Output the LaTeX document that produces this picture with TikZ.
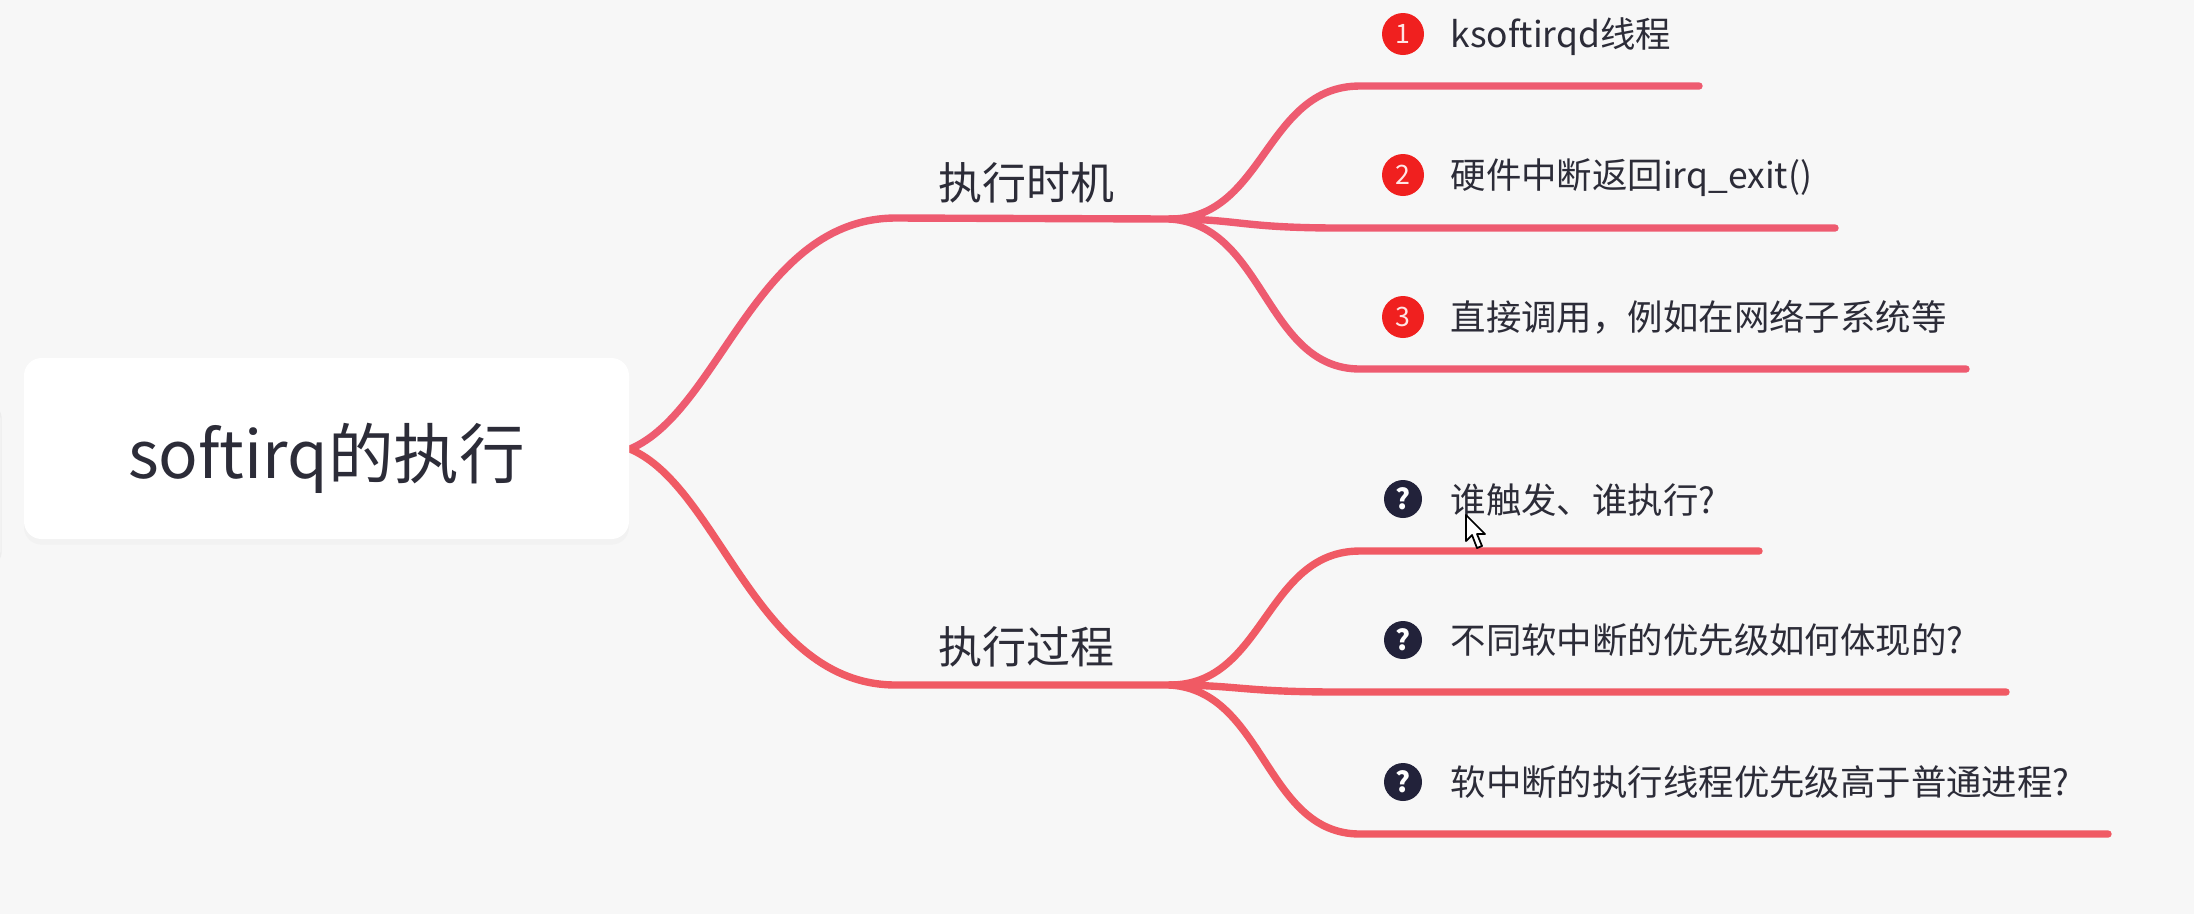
\documentclass[tikz,border=0pt]{standalone}
\usepackage{fontspec}
\setmainfont{Noto Sans CJK SC}
\usetikzlibrary{shadows}
\definecolor{pagebg}{HTML}{F7F7F7}
\definecolor{inktext}{HTML}{2C2C38}
\definecolor{branchA}{HTML}{EE5B70}
\definecolor{branchB}{HTML}{F05A64}
\definecolor{badgered}{HTML}{F0201F}
\definecolor{badgedark}{HTML}{22223A}
\tikzset{
    rootbox/.style={fill=white, rounded corners=5pt, minimum width=605*0.01cm, minimum height=181*0.01cm,
        inner sep=0pt, text=inktext, text height=20pt, text depth=3.2pt, font=\fontsize{18.65pt}{20pt}\selectfont,
        drop shadow={shadow xshift=0pt, shadow yshift=-1.6pt, fill=black!5, opacity=1}},
    topic/.style={anchor=west, inner sep=0pt, text=inktext, text height=.8em, text depth=.2em, font=\fontsize{12.5pt}{14pt}\selectfont},
    leaf/.style={anchor=west, inner sep=0pt, text=inktext, text height=.8em, text depth=.2em, font=\fontsize{10.07pt}{12pt}\selectfont},
    numbadge/.style={circle, fill=badgered, minimum size=42*0.01cm, inner sep=0pt, text=white!90!red, font=\fontsize{7.6pt}{7.6pt}\selectfont},
    askbadge/.style={circle, fill=badgedark, minimum size=38*0.01cm, inner sep=0pt, text=white, font=\bfseries\fontsize{8pt}{8pt}\selectfont},
    linkA/.style={draw=branchA, line width=2.1pt, line cap=round},
    linkB/.style={draw=branchB, line width=2.1pt, line cap=round},
}
\begin{document}
\begin{tikzpicture}[x=0.01cm, y=-0.01cm]
    \fill[pagebg] (0,0) rectangle (2194,914);
    \useasboundingbox (0,0) rectangle (2194,914);
    % edge of the panel behind
    \draw[black!7, fill=white!60!pagebg, rounded corners=3pt] (-20,407) rectangle (1,563);

    % connectors first
    \coordinate (rootout) at (630,449);
    \coordinate (turnA) at (896,218);
    \coordinate (hubA) at (1170,219);
    \coordinate (turnB) at (896,685);
    \coordinate (hubB) at (1170,685);
    \coordinate (endA1) at (1699,86);
    \coordinate (endA2) at (1835,228);
    \coordinate (endA3) at (1966,369);
    \coordinate (endB1) at (1759,551);
    \coordinate (endB2) at (2006,692);
    \coordinate (endB3) at (2108,834);

    \draw[linkA] (rootout) .. controls +(90,-38) and +(-140,0) .. (turnA) -- (hubA);
    \draw[linkB] (rootout) .. controls +(90,38) and +(-140,0) .. (turnB) -- (hubB);

    \draw[linkA] (hubA) .. controls +(95,0) and +(-95,0) .. (1360,86) -- (endA1);
    \draw[linkA] (hubA) .. controls +(70,0) and +(-100,0) .. (1340,228) -- (endA2);
    \draw[linkA] (hubA) .. controls +(95,6) and +(-95,0) .. (1360,369) -- (endA3);

    \draw[linkB] (hubB) .. controls +(95,0) and +(-95,0) .. (1360,551) -- (endB1);
    \draw[linkB] (hubB) .. controls +(70,0) and +(-100,0) .. (1340,692) -- (endB2);
    \draw[linkB] (hubB) .. controls +(95,6) and +(-95,0) .. (1360,834) -- (endB3);

    % nodes
    \node[rootbox] (root) at (326.5,448.5) {softirq的执行};
    \node[topic] (when) at (938,189) {执行时机};
    \node[topic] (how) at (938,653) {执行过程};

    \node[numbadge] (n1) at (1403,34) {1};
    \node[numbadge] (n2) at (1403,175) {2};
    \node[numbadge] (n3) at (1403,317) {3};
    \node[leaf] (l1) at (1450,37) {ksoftirqd线程};
    \node[leaf] (l2) at (1450,178) {硬件中断返回irq\_exit()};
    \node[leaf] (l3) at (1450,320) {直接调用，例如在网络子系统等};

    \node[askbadge] (q1) at (1403,499) {?};
    \node[askbadge] (q2) at (1403,640) {?};
    \node[askbadge] (q3) at (1403,782) {?};
    \node[leaf] (t1) at (1450,503) {谁触发、谁执行?};
    \node[leaf] (t2) at (1450,643) {不同软中断的优先级如何体现的?};
    \node[leaf] (t3) at (1450,785) {软中断的执行线程优先级高于普通进程?};

    % mouse pointer
    \draw[fill=white, draw=black, line width=.5pt, line join=round, shift={(1466,515)}]
        (0,0) -- (0,26) -- (6,20) -- (11,33) -- (16,31) -- (11,19) -- (19,19) -- cycle;
\end{tikzpicture}
\end{document}
